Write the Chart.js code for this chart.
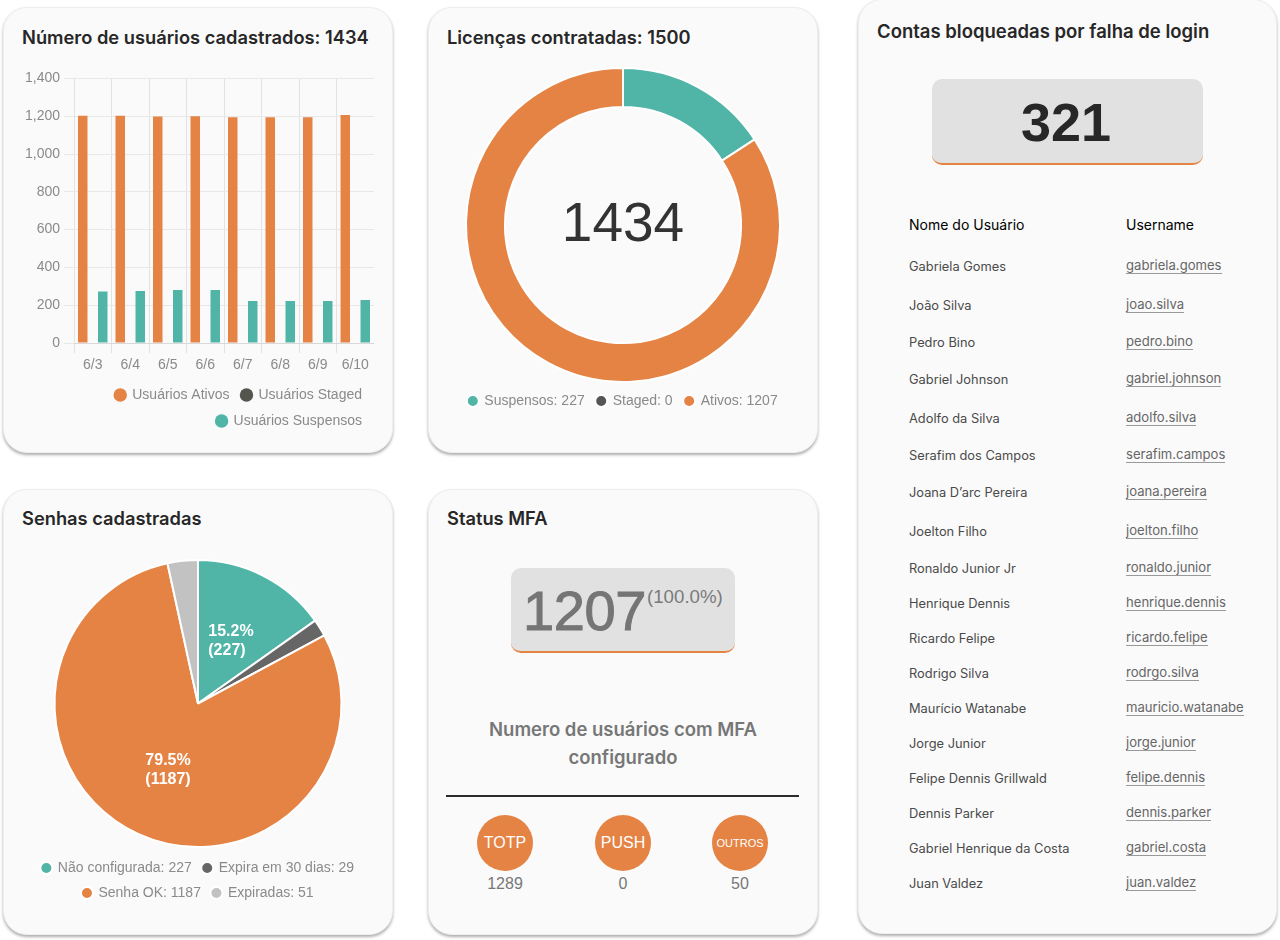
<!DOCTYPE html>
<html lang="pt-BR">
<head>
<meta charset="utf-8">
<title>Painel de usuários</title>
<script src="https://cdn.jsdelivr.net/npm/chart.js@4"></script>
<style>
  html, body { margin: 0; padding: 0; background: #fff; }
  body { position: relative; width: 1280px; height: 940px; overflow: hidden; font-family: "Liberation Sans", sans-serif; }
  .card { position: absolute; box-sizing: border-box; background: #fafafa; border: 1px solid #eeeeee; border-radius: 24px; box-shadow: 0 2px 3px rgba(0,0,0,.32); }
  .title { position: absolute; font: 600 18.3px Inter, sans-serif; color: #272727; white-space: nowrap; line-height: 22px; }
  canvas { position: absolute; }
  .box { position: absolute; box-sizing: border-box; background: #e1e1e1; border-radius: 10px; border-bottom: 2px solid #e58344; text-align: center; }
  .abs { position: absolute; white-space: nowrap; }
  .center { transform: translateX(-50%); text-align: center; }
  .circle { position: absolute; width: 56px; height: 56px; border-radius: 50%; background: #e58344; color: #fff; text-align: center; line-height: 56px; font-size: 16px; }
  .nome { font: 400 12.85px/18px Inter, sans-serif; color: #4a4a4a; }
  .user { font: 400 13.1px/16px Inter, sans-serif; color: #666; border-bottom: 1px solid #999; }
  .head { font: 400 14px/18px Inter, sans-serif; color: #000; }
</style>
</head>
<body>
<div class="card" style="left:3px;top:7px;width:390px;height:446px"></div>
<div class="card" style="left:428px;top:7px;width:390px;height:446px"></div>
<div class="card" style="left:3px;top:489px;width:390px;height:446px"></div>
<div class="card" style="left:428px;top:489px;width:390px;height:446px"></div>
<div class="card" style="left:858px;top:-1px;width:419px;height:935px"></div>

<div class="title" style="left:22px;top:26px" id="t1"></div>
<div class="title" style="left:447px;top:26px" id="t2"></div>
<div class="title" style="left:22px;top:507px">Senhas cadastradas</div>
<div class="title" style="left:447px;top:507px">Status MFA</div>
<div class="title" style="left:877px;top:20px;font-size:18.5px">Contas bloqueadas por falha de login</div>

<canvas id="barUsuarios" width="352" height="372" style="left:22px;top:66px"></canvas>
<canvas id="donutLicencas" width="390" height="352" style="left:428px;top:66px"></canvas>
<canvas id="pieSenhas" width="390" height="353" style="left:3px;top:557px"></canvas>

<div class="abs center" id="donutCentro" style="left:623px;top:189px;font-size:55px;line-height:66px;color:#333"></div>

<div class="box" style="left:511px;top:568px;width:224px;height:85px"></div>
<div class="abs" id="mfaTotal" style="left:523px;top:574px;font-size:56px;letter-spacing:-.4px;line-height:74px;font-weight:400;color:#757575;-webkit-text-stroke:1px #757575"></div>
<div class="abs" id="mfaPct" style="left:647px;top:585px;font-size:18.7px;line-height:24px;color:#7a7a7a"></div>
<div class="abs center" style="left:623px;top:715px;font:600 18.5px/28px Inter,sans-serif;color:#777">Numero de usuários com MFA<br>configurado</div>
<div class="abs" style="left:446px;top:795px;width:353px;height:2px;background:#2c2c2c"></div>
<div id="mfaMetodos"></div>

<div class="box" style="left:932px;top:79px;width:271px;height:86px"></div>
<div class="abs center" id="bloqueadas" style="left:1066px;top:89px;font-size:54px;line-height:66px;font-weight:700;color:#272727"></div>
<div class="abs head" style="left:909px;top:216px">Nome do Usuário</div>
<div class="abs head" style="left:1126px;top:216px">Username</div>
<div id="tabela"></div>

<script>
const dias = ['6/3', '6/4', '6/5', '6/6', '6/7', '6/8', '6/9', '6/10'];
const ativos = [1203, 1203, 1199, 1200, 1195, 1194, 1194, 1207];
const staged = [0, 0, 0, 0, 0, 0, 0, 0];
const suspensos = [273, 275, 280, 280, 222, 222, 222, 227];

const licencasNomes = ['Suspensos', 'Staged', 'Ativos'];
const licencasValores = [227, 0, 1207];

const senhasNomes = ['Não configurada', 'Expira em 30 dias', 'Senha OK', 'Expiradas'];
const senhasValores = [227, 29, 1187, 51];

const totalCadastrados = 1434;
const totalLicencas = 1500;
const mfaTotal = 1207;
const mfaPct = '(100.0%)';
const mfaNomes = ['TOTP', 'PUSH', 'OUTROS'];
const mfaValores = [1289, 0, 50];
const contasBloqueadas = 321;

const nomes = ['Gabriela Gomes', 'João Silva', 'Pedro Bino', 'Gabriel Johnson', 'Adolfo da Silva', 'Serafim dos Campos',
  'Joana D\u2019arc Pereira', 'Joelton Filho', 'Ronaldo Junior Jr', 'Henrique Dennis', 'Ricardo Felipe', 'Rodrigo Silva',
  'Maurício Watanabe', 'Jorge Junior', 'Felipe Dennis Grillwald', 'Dennis Parker', 'Gabriel Henrique da Costa', 'Juan Valdez'];
const usernames = ['gabriela.gomes', 'joao.silva', 'pedro.bino', 'gabriel.johnson', 'adolfo.silva', 'serafim.campos',
  'joana.pereira', 'joelton.filho', 'ronaldo.junior', 'henrique.dennis', 'ricardo.felipe', 'rodrgo.silva',
  'mauricio.watanabe', 'jorge.junior', 'felipe.dennis', 'dennis.parker', 'gabriel.costa', 'juan.valdez'];

const LARANJA = '#e58344';
const VERDE = '#50b5a7';
const ESCURO = '#55554f';
const CINZA = '#c2c2c2';
const FONTE = '"Liberation Sans", sans-serif';

document.getElementById('t1').textContent = 'Número de usuários cadastrados: ' + totalCadastrados;
document.getElementById('t2').textContent = 'Licenças contratadas: ' + totalLicencas;
document.getElementById('donutCentro').textContent = totalCadastrados;
document.getElementById('mfaTotal').textContent = mfaTotal;
document.getElementById('mfaPct').textContent = mfaPct;
document.getElementById('bloqueadas').textContent = contasBloqueadas;

// linhas da tabela e botoes do MFA
const rowY = [257, 296, 333, 370, 409, 446, 483, 522, 559, 594, 629, 664, 699, 734, 769, 804, 839, 874];
const tabela = document.getElementById('tabela');
nomes.forEach((n, i) => {
  tabela.insertAdjacentHTML('beforeend',
    `<div class="abs nome" style="left:909px;top:${rowY[i] + 1}px">${n}</div>` +
    `<div class="abs user" style="left:1126px;top:${rowY[i]}px">${usernames[i]}</div>`);
});
const mfaX = [505, 623, 740];
const mfaBox = document.getElementById('mfaMetodos');
mfaNomes.forEach((n, i) => {
  mfaBox.insertAdjacentHTML('beforeend',
    `<div class="circle" style="left:${mfaX[i] - 28}px;top:815px;${n === 'OUTROS' ? 'font-size:11px' : ''}">${n}</div>` +
    `<div class="abs center" style="left:${mfaX[i]}px;top:875px;font-size:16px;line-height:18px;color:#777">${mfaValores[i]}</div>`);
});

Chart.defaults.font.family = FONTE;
Chart.defaults.font.size = 14;
Chart.defaults.color = '#8a8a8a';
Chart.defaults.animation = false;
Chart.defaults.responsive = false;

new Chart(document.getElementById('barUsuarios'), {
  type: 'bar',
  data: {
    labels: dias,
    datasets: [
      { label: 'Usuários Ativos', data: ativos, backgroundColor: LARANJA, barPercentage: 0.95 },
      { label: 'Usuários Staged', data: staged, backgroundColor: ESCURO, barPercentage: 0.95 },
      { label: 'Usuários Suspensos', data: suspensos, backgroundColor: VERDE, barPercentage: 0.95 }
    ]
  },
  options: {
    layout: { padding: { top: 12 } },
    plugins: {
      tooltip: { enabled: false },
      legend: {
        position: 'bottom',
        align: 'end',
        labels: { usePointStyle: true, pointStyle: 'circle', boxWidth: 10, boxHeight: 9.5, padding: 12 }
      }
    },
    scales: {
      x: {
        afterFit: s => { s.height = 33; },
        grid: { color: c => c.index < dias.length ? '#e2e2e2' : 'transparent', tickLength: 10 },
        border: { color: '#d8d8d8' },
        ticks: { padding: 4, maxRotation: 0 }
      },
      y: {
        min: 0,
        max: 1400,
        afterFit: s => { s.width = 52; },
        grid: { color: '#e8e8e8', tickLength: 10 },
        border: { color: '#e2e2e2' },
        ticks: { stepSize: 200, padding: 4, callback: v => v.toLocaleString('en-US') }
      }
    }
  }
});

new Chart(document.getElementById('donutLicencas'), {
  type: 'doughnut',
  data: {
    labels: licencasNomes.map((n, i) => n + ': ' + licencasValores[i]),
    datasets: [{
      data: licencasValores,
      backgroundColor: [VERDE, '#555555', LARANJA],
      borderColor: '#ffffff',
      borderWidth: 2,
      radius: 157,
      cutout: '75.2%'
    }]
  },
  options: {
    layout: { padding: { top: 2 } },
    plugins: {
      tooltip: { enabled: false },
      legend: {
        position: 'bottom',
        labels: { usePointStyle: true, pointStyle: 'circle', boxWidth: 9, boxHeight: 8.5, padding: 12 }
      }
    }
  }
});

// rotulos das fatias grandes
const rotulosPie = {
  id: 'rotulosPie',
  afterDatasetsDraw(chart) {
    const ctx = chart.ctx;
    const total = senhasValores.reduce((a, b) => a + b, 0);
    ctx.save();
    ctx.font = '700 16px ' + FONTE;
    ctx.fillStyle = '#fff';
    ctx.textBaseline = 'middle';
    chart.getDatasetMeta(0).data.forEach((arc, i) => {
      const v = senhasValores[i];
      if (v / total < 0.1) return;
      const p = arc.tooltipPosition();
      const l1 = (v / total * 100).toFixed(1) + '%';
      const l2 = '(' + v + ')';
      const w = Math.max(ctx.measureText(l1).width, ctx.measureText(l2).width);
      ctx.fillText(l1, p.x - w / 2, p.y - 8.5);
      ctx.fillText(l2, p.x - w / 2, p.y + 10.5);
    });
    ctx.restore();
  }
};

new Chart(document.getElementById('pieSenhas'), {
  type: 'pie',
  plugins: [rotulosPie],
  data: {
    labels: senhasNomes.map((n, i) => n + ': ' + senhasValores[i]),
    datasets: [{
      data: senhasValores,
      backgroundColor: [VERDE, '#666666', LARANJA, CINZA],
      borderColor: '#ffffff',
      borderWidth: 2,
      radius: 143.5
    }]
  },
  options: {
    plugins: {
      tooltip: { enabled: false },
      legend: {
        position: 'bottom',
        labels: { usePointStyle: true, pointStyle: 'circle', boxWidth: 9, boxHeight: 8.5, padding: 11 }
      }
    }
  }
});
</script>
</body>
</html>
